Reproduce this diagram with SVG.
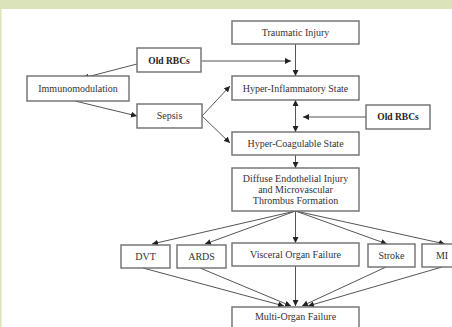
<svg xmlns="http://www.w3.org/2000/svg" width="452" height="327" viewBox="0 0 452 327">
<style>
.bx{fill:#fff;stroke:#6e6e6e;stroke-width:1.4}
.t{font-family:"Liberation Serif","Times New Roman",serif;font-size:10px;fill:#333;text-anchor:middle}
.b{font-weight:bold;fill:#222;font-size:9.5px}
.c{stroke:#555;stroke-width:1;fill:none}
</style>
<defs>
<marker id="ah" viewBox="0 0 10 10" refX="10" refY="5" markerWidth="6" markerHeight="6" orient="auto-start-reverse" markerUnits="userSpaceOnUse">
<path d="M0,0 L10,5 L0,10 z" fill="#222"/>
</marker>
</defs>
<rect x="0" y="0" width="452" height="327" fill="#fff"/>
<rect x="0" y="0" width="452" height="9" fill="#dae3b9"/>
<rect x="0" y="0" width="1.5" height="327" fill="#dae3b9"/>

<g id="connectors">
<line class="c" x1="295.5" y1="44" x2="295.5" y2="76" marker-end="url(#ah)"/>
<line class="c" x1="202" y1="61" x2="291" y2="61" marker-end="url(#ah)"/>
<line class="c" x1="137" y1="64" x2="83" y2="78" marker-end="url(#ah)"/>
<line class="c" x1="75" y1="101" x2="137" y2="116" marker-end="url(#ah)"/>
<line class="c" x1="202" y1="116" x2="230" y2="86" marker-end="url(#ah)"/>
<line class="c" x1="202" y1="116" x2="230" y2="143" marker-end="url(#ah)"/>
<line class="c" x1="295.5" y1="100" x2="295.5" y2="132" marker-start="url(#ah)" marker-end="url(#ah)"/>
<line class="c" x1="366" y1="117" x2="303" y2="117" marker-end="url(#ah)"/>
<line class="c" x1="295.5" y1="155" x2="295.5" y2="168" marker-end="url(#ah)"/>
<line class="c" x1="295.5" y1="211" x2="152" y2="244" marker-end="url(#ah)"/>
<line class="c" x1="295.5" y1="211" x2="205" y2="244" marker-end="url(#ah)"/>
<line class="c" x1="295.5" y1="211" x2="295.5" y2="243" marker-end="url(#ah)"/>
<line class="c" x1="295.5" y1="211" x2="387" y2="244" marker-end="url(#ah)"/>
<line class="c" x1="295.5" y1="211" x2="445" y2="244" marker-end="url(#ah)"/>
<line class="c" x1="143" y1="268" x2="284" y2="306" marker-end="url(#ah)"/>
<line class="c" x1="200" y1="268" x2="291" y2="306" marker-end="url(#ah)"/>
<line class="c" x1="295.5" y1="266" x2="295.5" y2="306" marker-end="url(#ah)"/>
<line class="c" x1="386" y1="267" x2="302" y2="306" marker-end="url(#ah)"/>
<line class="c" x1="442" y1="267" x2="308" y2="306" marker-end="url(#ah)"/>
</g>

<g id="traumatic"><rect class="bx" x="232" y="21" width="127" height="23"/><text class="t" x="295.5" y="35.5">Traumatic Injury</text></g>
<g id="oldrbc1"><rect class="bx" x="137" y="48" width="64" height="24"/><text class="t b" x="169" y="64">Old RBCs</text></g>
<g id="immuno"><rect class="bx" x="27" y="76" width="102" height="25"/><text class="t" x="78" y="91.5">Immunomodulation</text></g>
<g id="hyperinfl"><rect class="bx" x="232" y="76" width="127" height="24"/><text class="t" x="295.5" y="91.5">Hyper-Inflammatory State</text></g>
<g id="sepsis"><rect class="bx" x="137" y="104" width="65" height="24"/><text class="t" x="169.5" y="118.5">Sepsis</text></g>
<g id="oldrbc2"><rect class="bx" x="366" y="105" width="64" height="24"/><text class="t b" x="398" y="120">Old RBCs</text></g>
<g id="hypercoag"><rect class="bx" x="232" y="132" width="127" height="23"/><text class="t" x="295.5" y="146.5">Hyper-Coagulable State</text></g>
<g id="diffuse"><rect class="bx" x="232" y="168" width="127" height="43"/>
<text class="t" x="295.5" y="181.5">Diffuse Endothelial Injury</text>
<text class="t" x="295.5" y="192.5">and Microvascular</text>
<text class="t" x="295.5" y="203.5">Thrombus Formation</text></g>
<g id="dvt"><rect class="bx" x="121" y="245" width="49" height="23"/><text class="t" x="145.5" y="259.5">DVT</text></g>
<g id="ards"><rect class="bx" x="177" y="245" width="49" height="23"/><text class="t" x="201.5" y="259.5">ARDS</text></g>
<g id="visceral"><rect class="bx" x="232" y="243" width="127" height="23"/><text class="t" x="295.5" y="257.5">Visceral Organ Failure</text></g>
<g id="stroke"><rect class="bx" x="368" y="244" width="47" height="23"/><text class="t" x="391.5" y="258.5">Stroke</text></g>
<g id="mi"><rect class="bx" x="422" y="244" width="40" height="23"/><text class="t" x="442" y="258.5">MI</text></g>
<g id="multi"><rect class="bx" x="232" y="307" width="127" height="24"/><text class="t" x="295.5" y="319.5">Multi-Organ Failure</text></g>
</svg>
